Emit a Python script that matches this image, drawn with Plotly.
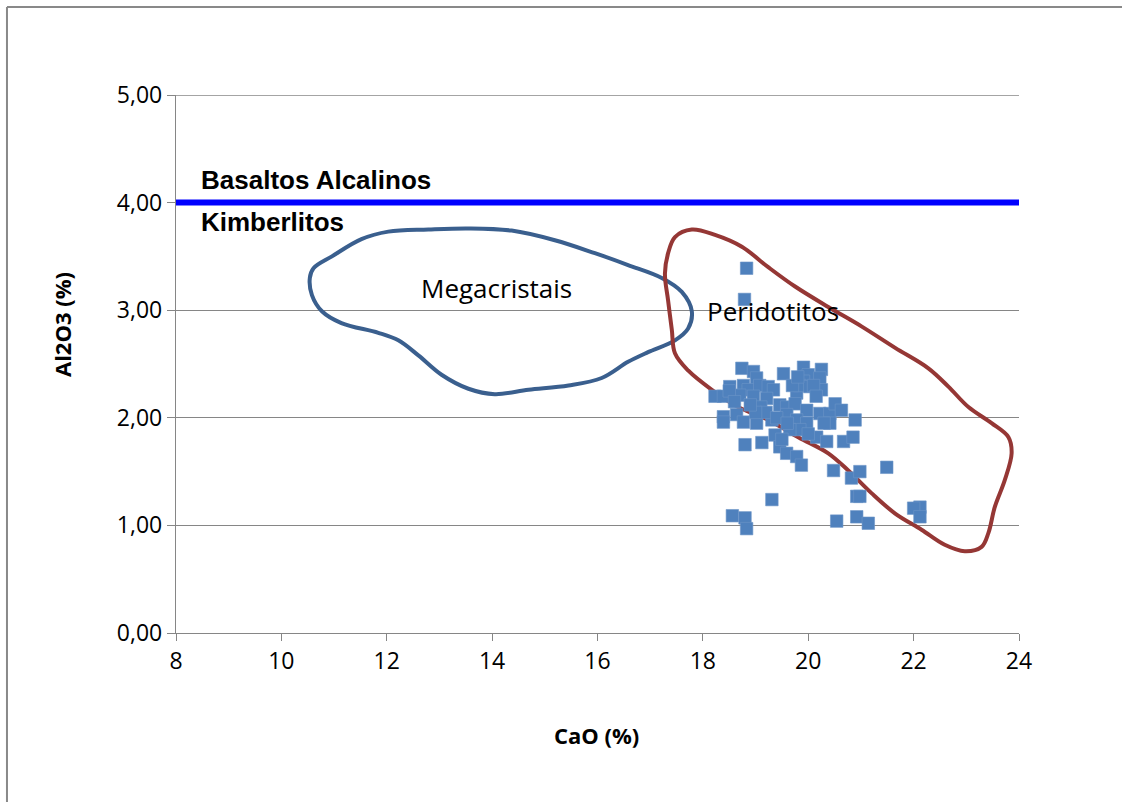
import plotly.graph_objects as go

# Sample data (CaO %, Al2O3 %)
cao = [18.83, 18.79, 18.74, 18.96, 19.02, 19.53, 19.91, 20.25, 20.00, 20.22, 19.91,
       18.51, 18.77, 18.86, 19.08, 19.24, 19.34, 18.23, 18.39, 18.70, 18.96, 19.21,
       19.46, 19.59, 19.78, 19.84, 20.03, 20.25, 19.75, 19.97, 20.22, 20.41, 20.51,
       20.63, 20.89, 18.39, 18.39, 18.64, 18.77, 19.02, 19.31, 19.59, 19.78, 19.97,
       19.84, 19.37, 19.65, 20.16, 20.35, 20.41, 20.67, 20.85, 18.80, 19.12, 19.46,
       19.59, 19.78, 19.87, 20.48, 20.82, 20.98, 21.49, 19.31, 20.92, 20.98, 22.12,
       22.00, 22.12, 18.56, 18.80, 18.83, 20.54, 20.92, 21.14,
       18.50, 18.60, 19.10, 19.20, 19.40, 19.70, 19.80, 20.10, 20.15, 20.30, 19.50,
       19.00, 18.90, 20.00, 19.60]
al2o3 = [3.39, 3.10, 2.46, 2.43, 2.37, 2.41, 2.47, 2.45, 2.40, 2.37, 2.34,
         2.29, 2.30, 2.26, 2.30, 2.29, 2.26, 2.20, 2.20, 2.21, 2.20, 2.18,
         2.12, 2.10, 2.23, 2.30, 2.29, 2.26, 2.13, 2.07, 2.04, 2.04, 2.13,
         2.07, 1.98, 2.01, 1.96, 2.03, 1.96, 1.95, 1.98, 2.03, 1.98, 1.95,
         1.89, 1.84, 1.89, 1.82, 1.78, 1.95, 1.78, 1.82, 1.75, 1.77, 1.73,
         1.67, 1.64, 1.56, 1.51, 1.44, 1.50, 1.54, 1.24, 1.27, 1.27, 1.17,
         1.16, 1.08, 1.09, 1.07, 0.97, 1.04, 1.08, 1.02,
         2.25, 2.15, 2.10, 2.05, 2.00, 2.30, 2.38, 2.30, 2.20, 1.95, 1.80,
         2.05, 2.12, 1.85, 1.95]

# Megacristais field outline
mega_x = [10.61, 10.96, 11.52, 12.03, 12.79, 13.55, 14.37, 15.19, 15.95, 16.58, 17.22,
          17.60, 17.79, 17.72, 17.47, 16.96, 16.58, 16.08, 15.45, 14.69, 14.05, 13.55,
          13.04, 12.60, 12.22, 11.84, 11.14, 10.77, 10.58, 10.54, 10.61]
mega_y = [3.39, 3.50, 3.66, 3.73, 3.75, 3.76, 3.74, 3.65, 3.53, 3.42, 3.30,
          3.17, 2.99, 2.83, 2.72, 2.61, 2.52, 2.37, 2.30, 2.26, 2.22, 2.27,
          2.40, 2.58, 2.72, 2.79, 2.88, 2.99, 3.14, 3.30, 3.39]

# Peridotitos field outline
peri_x = [17.34, 17.47, 17.79, 18.23, 18.74, 19.24, 19.75, 20.38, 21.01, 21.65, 22.28,
          22.66, 23.04, 23.48, 23.80, 23.86, 23.73, 23.54, 23.42, 23.29, 22.97, 22.59,
          22.15, 21.65, 21.20, 20.76, 20.38, 19.81, 19.24, 18.67, 18.17, 17.72, 17.47,
          17.41, 17.34, 17.28, 17.34]
peri_y = [3.53, 3.68, 3.75, 3.70, 3.59, 3.40, 3.22, 3.03, 2.85, 2.65, 2.46,
          2.29, 2.10, 1.95, 1.82, 1.67, 1.42, 1.17, 0.93, 0.80, 0.76, 0.82,
          0.96, 1.11, 1.30, 1.51, 1.67, 1.82, 1.98, 2.10, 2.26, 2.44, 2.60,
          2.82, 3.09, 3.34, 3.53]

# Boundary line basaltos / kimberlitos
limit_x = [8, 24]
limit_y = [4.0, 4.0]

x_ticks = [8, 10, 12, 14, 16, 18, 20, 22, 24]
y_ticks = [0, 1, 2, 3, 4, 5]
y_tick_text = ["0,00", "1,00", "2,00", "3,00", "4,00", "5,00"]

fig = go.Figure()

fig.add_trace(go.Scatter(x=limit_x, y=limit_y, mode="lines",
                         line=dict(color="#0000FF", width=6), hoverinfo="skip"))
fig.add_trace(go.Scatter(x=mega_x, y=mega_y, mode="lines",
                         line=dict(color="#3A5F8E", width=4, shape="spline", smoothing=1.0),
                         hoverinfo="skip"))
fig.add_trace(go.Scatter(x=peri_x, y=peri_y, mode="lines",
                         line=dict(color="#953735", width=4, shape="spline", smoothing=1.0),
                         hoverinfo="skip"))
fig.add_trace(go.Scatter(x=cao, y=al2o3, mode="markers",
                         marker=dict(symbol="square", size=12.5, color="#4F81BD",
                                     line=dict(color="#6D95C8", width=0.6))))

axis_color = "#868686"
tick_font = dict(family="Open Sans, sans-serif", size=23, color="#000000")

fig.update_xaxes(range=[8, 24], tickvals=x_ticks, ticktext=[str(v) for v in x_ticks],
                 showgrid=False, zeroline=False, showline=True, linecolor=axis_color,
                 linewidth=1.3, ticks="outside", ticklen=7, tickcolor=axis_color,
                 tickfont=tick_font)
fig.update_yaxes(range=[0, 5], tickvals=y_ticks, ticktext=y_tick_text,
                 showgrid=True, gridcolor=axis_color, gridwidth=1.3, zeroline=False,
                 showline=True, linecolor=axis_color, linewidth=1.3, ticks="outside",
                 ticklen=8, tickcolor=axis_color, tickfont=tick_font)

label_font = dict(family="Open Sans, sans-serif", size=26, color="#000000")
bold_font = dict(family="Liberation Sans, Arial, sans-serif", size=26, color="#000000")
title_font = dict(family="Open Sans, sans-serif", size=22, color="#000000")

annotations = [
    dict(x=8.44, y=4.21, xref="x", yref="y", text="<b>Basaltos Alcalinos</b>",
         showarrow=False, xanchor="left", yanchor="middle", font=bold_font),
    dict(x=8.44, y=3.82, xref="x", yref="y", text="<b>Kimberlitos</b>",
         showarrow=False, xanchor="left", yanchor="middle", font=bold_font),
    dict(x=14.09, y=3.21, xref="x", yref="y", text="Megacristais",
         showarrow=False, xanchor="center", yanchor="middle", font=label_font),
    dict(x=19.33, y=2.99, xref="x", yref="y", text="Peridotitos",
         showarrow=False, xanchor="center", yanchor="middle", font=label_font),
    dict(x=0.4994, y=-0.1896, xref="paper", yref="paper", text="<b>CaO (%)</b>",
         showarrow=False, xanchor="center", yanchor="middle", font=title_font),
    dict(x=-0.1352, y=0.5725, xref="paper", yref="paper", text="<b>Al2O3 (%)</b>",
         showarrow=False, xanchor="center", yanchor="middle", textangle=-90,
         font=title_font),
]

fig.update_layout(
    width=1122, height=802,
    margin=dict(l=176, r=103, t=95, b=169),
    paper_bgcolor="#FFFFFF", plot_bgcolor="#FFFFFF",
    showlegend=False,
    annotations=annotations,
    shapes=[
        dict(type="line", xref="paper", yref="paper",
             x0=-0.2005, x1=1.4, y0=1.1636, y1=1.1636,
             line=dict(color="#898989", width=2), layer="below"),
        dict(type="line", xref="paper", yref="paper",
             x0=-0.2005, x1=-0.2005, y0=-0.45, y1=1.1636,
             line=dict(color="#898989", width=2), layer="below"),
        dict(type="line", xref="paper", yref="y", x0=0, x1=1, y0=5, y1=5,
             line=dict(color=axis_color, width=1.3), layer="below"),
    ],
)

fig.write_html("out.html")
